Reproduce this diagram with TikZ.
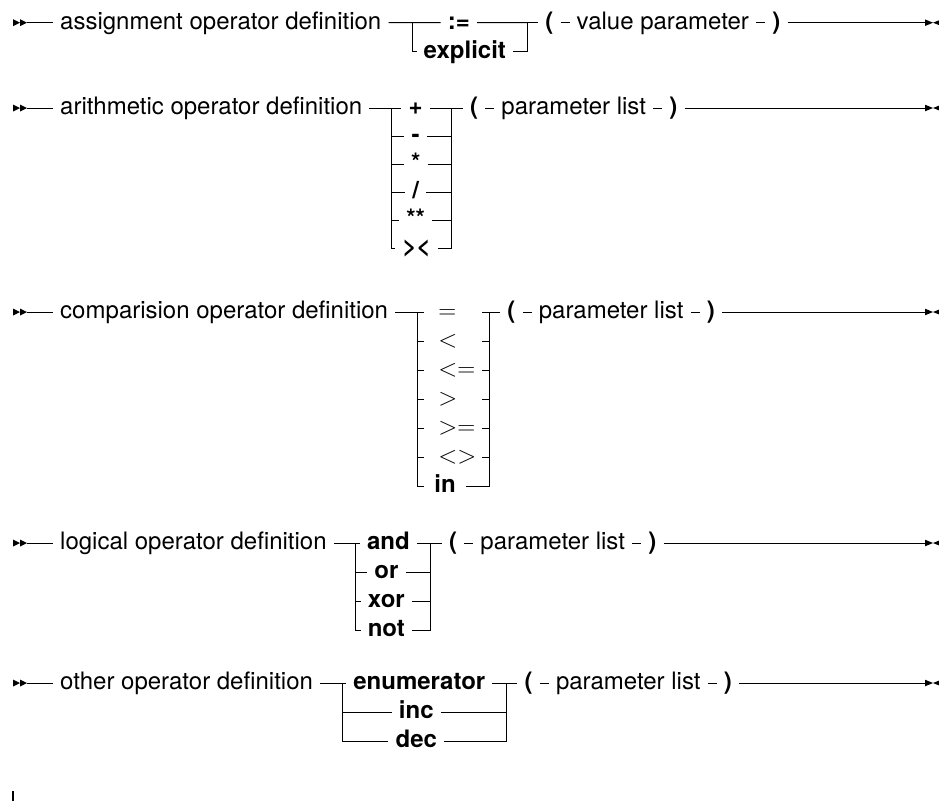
\documentclass[tikz,border=0pt]{standalone}
\usepackage{fontspec}
\setmainfont{TeX Gyre Heros}
\usetikzlibrary{calc,positioning}
\newcommand\diagfs{\fontsize{24}{29}\selectfont}
\begin{document}
\begin{tikzpicture}[x=1pt,y=-1pt,
  every node/.style={inner ysep=0pt, inner xsep=7pt, text height=12.6pt, text depth=0pt, font=\diagfs},
  kw/.style={font=\diagfs\bfseries},
  sym/.style={inner xsep=0pt, anchor=west},
  conn/.style={line width=1pt},
  startmark/.pic={\fill (0,-3.5)--(7,0)--(0,3.5)--cycle; \fill (7,-3.5)--(14,0)--(7,3.5)--cycle;},
  endmark/.pic={\fill (0,-3.3)--(8,0)--(0,3.3)--cycle; \fill (14,-2.4)--(8,0)--(14,2.4)--cycle;}
]
\useasboundingbox (0,0) rectangle (939,801);

% ---------- D1 ----------
\coordinate (s1) at (13,22.7);
\coordinate (s1e) at (27,22.7);
\pic at (s1) {startmark};
\node[anchor=west] (d1) at (53,22.7) {assignment operator definition};
\draw[conn] (s1e) -- (d1.west);
\coordinate (L1) at ($(d1.east)+(24,0)$);
\node[kw, anchor=west] (b1) at ($(L1)+(4,29)$) {explicit};
\coordinate (R1) at ($(b1.east |- L1)+(14,0)$);
\node[kw, anchor=center] (a1) at ($(L1)!0.5!(R1)+(-11,0)$) {:=};
\draw[conn] (d1.east) -- (a1.west);
\draw[conn] (a1.east) -- (R1);
\draw[conn] (L1) |- (b1.west);
\draw[conn] (b1.east) -| (R1);
\node[kw, anchor=west] (o1) at ($(R1)+(11,0)$) {(};
\node[right=9pt of o1] (v1) {value parameter};
\node[kw, right=9pt of v1] (c1) {)};
\draw[conn] (R1) -- (o1.west);
\draw[conn] (o1.east) -- (v1.west);
\draw[conn] (v1.east) -- (c1.west);
\coordinate (e1) at (925,22.7);
\draw[conn] (c1.east) -- (e1);
\pic at (e1) {endmark};

% ---------- D2 ----------
\coordinate (s2) at (13,108);
\coordinate (s2e) at (27,108);
\pic at (s2) {startmark};
\node[anchor=west] (d2) at (53,108) {arithmetic operator definition};
\draw[conn] (s2e) -- (d2.west);
\coordinate (L2) at ($(d2.east)+(22,0)$);
\node[kw, anchor=west] (i2f) at ($(L2)+(4,140)$) {><};
\coordinate (R2) at ($(i2f.east |- L2)+(14,0)$);
\coordinate (M2) at ($(L2)!0.5!(R2)+(-6,0)$);
\node[kw, anchor=center] (i2a) at (M2) {+};
\node[kw, anchor=center] (i2b) at ($(M2)+(0,28)$) {-};
\node[kw, anchor=center] (i2c) at ($(M2)+(0,56)$) {*};
\node[kw, anchor=center] (i2d) at ($(M2)+(0,84)$) {/};
\node[kw, anchor=center] (i2e) at ($(M2)+(0,112)$) {**};
\draw[conn] (d2.east) -- (i2a.west);
\draw[conn] (i2a.east) -- (R2);
\draw[conn] (L2) |- (i2f.west);
\draw[conn] (i2f.east) -| (R2);
\foreach \n in {i2b,i2c,i2d,i2e}{
  \draw[conn] (\n.west -| L2) -- (\n.west);
  \draw[conn] (\n.east) -- (\n.east -| R2);
}
\node[kw, anchor=west] (o2) at ($(R2)+(11,0)$) {(};
\node[right=9pt of o2] (v2) {parameter list};
\node[kw, right=9pt of v2] (c2) {)};
\draw[conn] (R2) -- (o2.west);
\draw[conn] (o2.east) -- (v2.west);
\draw[conn] (v2.east) -- (c2.west);
\coordinate (e2) at (925,108);
\draw[conn] (c2.east) -- (e2);
\pic at (e2) {endmark};

% ---------- D3 ----------
\coordinate (s3) at (13,312);
\coordinate (s3e) at (27,312);
\pic at (s3) {startmark};
\node[anchor=west] (d3) at (53,312) {comparision operator definition};
\draw[conn] (s3e) -- (d3.west);
\coordinate (L3) at ($(d3.east)+(22,0)$);
\coordinate (R3) at ($(L3)+(72,0)$);
\node[sym] (i3a) at ($(L3)+(21,0)$) {$=$};
\node[sym] (i3b) at ($(L3)+(21,29)$) {$<$};
\node[sym] (i3c) at ($(L3)+(21,58)$) {$<=$};
\node[sym] (i3d) at ($(L3)+(21,87)$) {$>$};
\node[sym] (i3e) at ($(L3)+(21,116)$) {$>=$};
\node[sym] (i3f) at ($(L3)+(21,145)$) {$<>$};
\node[kw, anchor=west, inner xsep=10pt] (i3g) at ($(L3)+(7,174)$) {in};
\draw[conn] (d3.east) -- ($(L3)+(7,0)$);
\draw[conn] ($(R3)+(-7,0)$) -- (R3);
\draw[conn] (L3) |- (i3g.west);
\draw[conn] (i3g.east) -| (R3);
\foreach \k in {29,58,87,116,145}{
  \draw[conn] ($(L3)+(0,\k)$) -- ++(7,0);
  \draw[conn] ($(R3)+(0,\k)$) -- ++(-7,0);
}
\node[kw, anchor=west] (o3) at ($(R3)+(11,0)$) {(};
\node[right=9pt of o3] (v3) {parameter list};
\node[kw, right=9pt of v3] (c3) {)};
\draw[conn] (R3) -- (o3.west);
\draw[conn] (o3.east) -- (v3.west);
\draw[conn] (v3.east) -- (c3.west);
\coordinate (e3) at (925,312);
\draw[conn] (c3.east) -- (e3);
\pic at (e3) {endmark};

% ---------- D4 ----------
\coordinate (s4) at (13,543);
\coordinate (s4e) at (27,543);
\pic at (s4) {startmark};
\node[anchor=west] (d4) at (53,543) {logical operator definition};
\draw[conn] (s4e) -- (d4.west);
\coordinate (L4) at ($(d4.east)+(22,0)$);
\node[kw, anchor=west] (i4a) at ($(L4)+(4,0)$) {and};
\coordinate (R4) at ($(i4a.east)+(14,0)$);
\coordinate (M4) at ($(L4)!0.5!(R4)+(-7,0)$);
\node[kw, anchor=center] (i4b) at ($(M4)+(0,29)$) {or};
\node[kw, anchor=center] (i4c) at ($(M4)+(0,58)$) {xor};
\node[kw, anchor=center] (i4d) at ($(M4)+(0,87)$) {not};
\draw[conn] (d4.east) -- (i4a.west);
\draw[conn] (i4a.east) -- (R4);
\draw[conn] (L4) |- (i4d.west);
\draw[conn] (i4d.east) -| (R4);
\foreach \n in {i4b,i4c}{
  \draw[conn] (\n.west -| L4) -- (\n.west);
  \draw[conn] (\n.east) -- (\n.east -| R4);
}
\node[kw, anchor=west] (o4) at ($(R4)+(11,0)$) {(};
\node[right=9pt of o4] (v4) {parameter list};
\node[kw, right=9pt of v4] (c4) {)};
\draw[conn] (R4) -- (o4.west);
\draw[conn] (o4.east) -- (v4.west);
\draw[conn] (v4.east) -- (c4.west);
\coordinate (e4) at (925,543);
\draw[conn] (c4.east) -- (e4);
\pic at (e4) {endmark};

% ---------- D5 ----------
\coordinate (s5) at (13,683);
\coordinate (s5e) at (27,683);
\pic at (s5) {startmark};
\node[anchor=west] (d5) at (53,683) {other operator definition};
\draw[conn] (s5e) -- (d5.west);
\coordinate (L5) at ($(d5.east)+(22,0)$);
\node[kw, anchor=west] (i5a) at ($(L5)+(4,0)$) {enumerator};
\coordinate (R5) at ($(i5a.east)+(14,0)$);
\coordinate (M5) at ($(L5)!0.5!(R5)+(-8,0)$);
\node[kw, anchor=center] (i5b) at ($(M5)+(0,29)$) {inc};
\node[kw, anchor=center] (i5c) at ($(M5)+(0,58)$) {dec};
\draw[conn] (d5.east) -- (i5a.west);
\draw[conn] (i5a.east) -- (R5);
\draw[conn] (L5) |- (i5c.west);
\draw[conn] (i5c.east) -| (R5);
\draw[conn] (i5b.west -| L5) -- (i5b.west);
\draw[conn] (i5b.east) -- (i5b.east -| R5);
\node[kw, anchor=west] (o5) at ($(R5)+(11,0)$) {(};
\node[right=9pt of o5] (v5) {parameter list};
\node[kw, right=9pt of v5] (c5) {)};
\draw[conn] (R5) -- (o5.west);
\draw[conn] (o5.east) -- (v5.west);
\draw[conn] (v5.east) -- (c5.west);
\coordinate (e5) at (925,683);
\draw[conn] (c5.east) -- (e5);
\pic at (e5) {endmark};

% bottom tick
\coordinate (t1) at (13,791);
\coordinate (t2) at (13,801);
\draw[line width=1.2pt] (t1) -- (t2);
\end{tikzpicture}
\end{document}
